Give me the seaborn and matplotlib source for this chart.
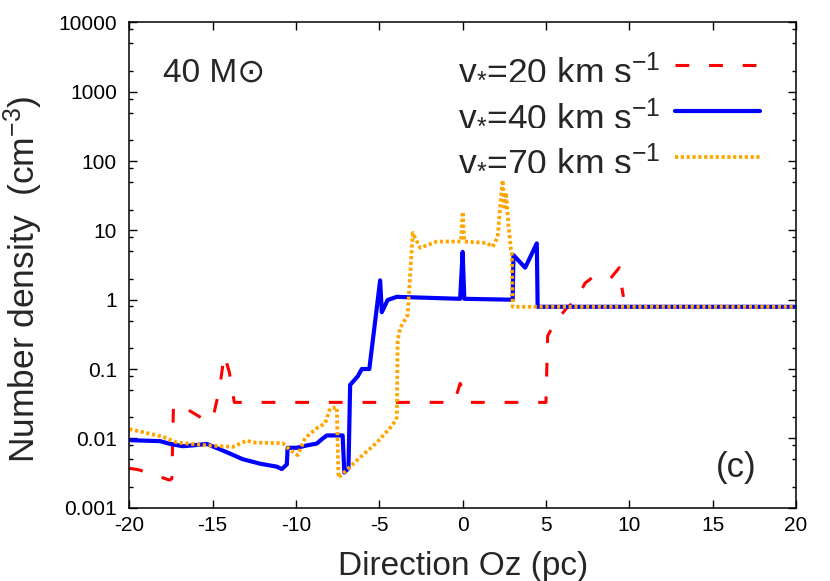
import matplotlib
matplotlib.use("Agg")
import matplotlib.pyplot as plt
from matplotlib.ticker import FixedLocator, LogLocator, NullLocator, NullFormatter
import seaborn as sns

# v* = 20 km/s (red dashed)
x20 = [-20, -19.4, -18.8, -18.2, -17.6, -17.45, -17.35, -16.5, -15.4, -15.0, -14.6,
       -14.3, -14.0, -13.7, -0.5, -0.15, 0.1, 0.4, 5.0, 5.1, 5.5, 6.3, 6.75, 7.35,
       7.8, 8.85, 9.4, 9.55, 9.65]
y20 = [0.0037, 0.0035, 0.0031, 0.0028, 0.0025, 0.0026, 0.030, 0.026, 0.018, 0.019, 0.05,
       0.16, 0.09, 0.033, 0.033, 0.062, 0.045, 0.033, 0.033, 0.30, 0.45, 0.79, 0.93, 1.74,
       2.1, 2.0, 2.9, 1.5, 1.1]

# v* = 40 km/s (blue solid)
x40 = [-20, -18.15, -17.55, -16.8, -16.2, -15.35, -14.15, -13.2, -12.15, -11.15, -10.85,
       -10.55, -10.5, -9.95, -9.35, -8.75, -8.45, -8.15, -7.2, -7.1, -6.85, -6.75, -6.3,
       -6.05, -5.6, -4.95, -4.85, -4.5, -3.95, -0.15, 0.0, 0.1, 3.0, 3.05, 3.75, 4.45,
       4.5, 20]
y40 = [0.0094, 0.0091, 0.0083, 0.0077, 0.0079, 0.0083, 0.0063, 0.005, 0.0043, 0.0039, 0.0036,
       0.0042, 0.0073, 0.0073, 0.0079, 0.0084, 0.0097, 0.011, 0.011, 0.0032, 0.0037, 0.059, 0.078,
       0.1, 0.1, 1.9, 0.66, 0.99, 1.1, 1.03, 4.9, 1.03, 1.0, 4.4, 2.9, 6.5,
       0.79, 0.79]

# v* = 70 km/s (orange dotted)
x70 = [-20, -17.98, -17.14, -15.6, -13.8, -12.95, -12.6, -10.8, -10.35, -9.9, -9.45,
       -8.75, -8.25, -7.95, -7.55, -7.45, -6.35, -5.15, -4.2, -3.95, -3.9, -3.75, -3.3,
       -3.05, -3.0, -2.55, -1.55, -0.1, 0.0, 0.1, 1.45, 1.8, 2.1, 2.3, 2.4, 2.5, 2.6,
       2.75, 2.9, 2.95, 3.0, 20]
y70 = [0.0136, 0.0105, 0.0087, 0.008, 0.0075, 0.0093, 0.0087, 0.0085, 0.0068, 0.0057, 0.0101,
       0.014, 0.0165, 0.027, 0.028, 0.0027, 0.0048, 0.0087, 0.0155, 0.02, 0.26, 0.39, 0.6,
       5.6, 9.2, 5.6, 6.9, 6.9, 18.6, 6.9, 6.6, 5.8, 8.0, 30, 53, 20, 35,
       12, 5.3, 5.0, 0.79, 0.79]

labels = [r"v$_{*}$=20 km s$^{-1}$", r"v$_{*}$=40 km s$^{-1}$", r"v$_{*}$=70 km s$^{-1}$"]
yticks = [0.001, 0.01, 0.1, 1, 10, 100, 1000, 10000]
yticklabels = ["0.001", "0.01", "0.1", "1", "10", "100", "1000", "10000"]
xticks = [-20, -15, -10, -5, 0, 5, 10, 15, 20]

sns.set_style("ticks")
plt.rcParams["font.family"] = ["Liberation Sans", "DejaVu Sans"]
plt.rcParams["mathtext.fontset"] = "custom"
plt.rcParams["mathtext.rm"] = "Liberation Sans"
plt.rcParams["mathtext.it"] = "Liberation Sans:italic"
plt.rcParams["mathtext.default"] = "regular"

fig = plt.figure(figsize=(8.3, 5.81), dpi=100)
ax = fig.add_axes([0.1558, 0.1263, 0.8032, 0.835])
ax.set_yscale("log")

sns.lineplot(x=x20, y=y20, sort=False, estimator=None, color="#ff0000", lw=2.2,
             linestyle=(0, (4.5, 6.5)), label=labels[0], ax=ax)
sns.lineplot(x=x40, y=y40, sort=False, estimator=None, color="#0000ff", lw=3.0,
             label=labels[1], ax=ax)
sns.lineplot(x=x70, y=y70, sort=False, estimator=None, color="#ffa500", lw=2.7,
             linestyle=(0, (0.85, 0.7)), label=labels[2], ax=ax)

ax.set_xlim(-20, 20)
ax.set_ylim(0.001, 10000)
ax.xaxis.set_major_locator(FixedLocator(xticks))
ax.xaxis.set_minor_locator(NullLocator())
ax.set_xticklabels([str(t) for t in xticks])
ax.yaxis.set_major_locator(FixedLocator(yticks))
ax.set_yticklabels(yticklabels)
ax.yaxis.set_minor_locator(LogLocator(base=10, subs=(2, 5, 8)))
ax.yaxis.set_minor_formatter(NullFormatter())

ax.tick_params(which="both", direction="in", top=True, right=True, colors="black",
               labelsize=15, width=1.0)
ax.tick_params(which="major", length=5.5)
ax.tick_params(which="minor", length=3)
ax.tick_params(axis="y", pad=9)
ax.tick_params(axis="x", pad=6)
for s in ax.spines.values():
    s.set_linewidth(1.1)
    s.set_color("black")

ax.set_xlabel("Direction Oz (pc)", fontsize=24)
ax.set_ylabel(r"Number density  (cm$^{-3}$)", fontsize=25.5)
ax.xaxis.set_label_coords(0.5, -0.09)
ax.yaxis.set_label_coords(-0.127, 0.471)

ax.legend(loc="upper right", bbox_to_anchor=(0.946, 0.94), frameon=False,
          markerfirst=False, fontsize=25.5, borderpad=0, borderaxespad=0,
          handlelength=2.4, handletextpad=0.42, labelspacing=0.36)

ax.text(0.051, 0.878, "40 M⊙", fontsize=24, transform=ax.transAxes, ha="left", va="baseline")
ax.text(0.9415, 0.063, "(c)", fontsize=25, transform=ax.transAxes, ha="right", va="baseline")

fig.savefig("out.png", dpi=100)
